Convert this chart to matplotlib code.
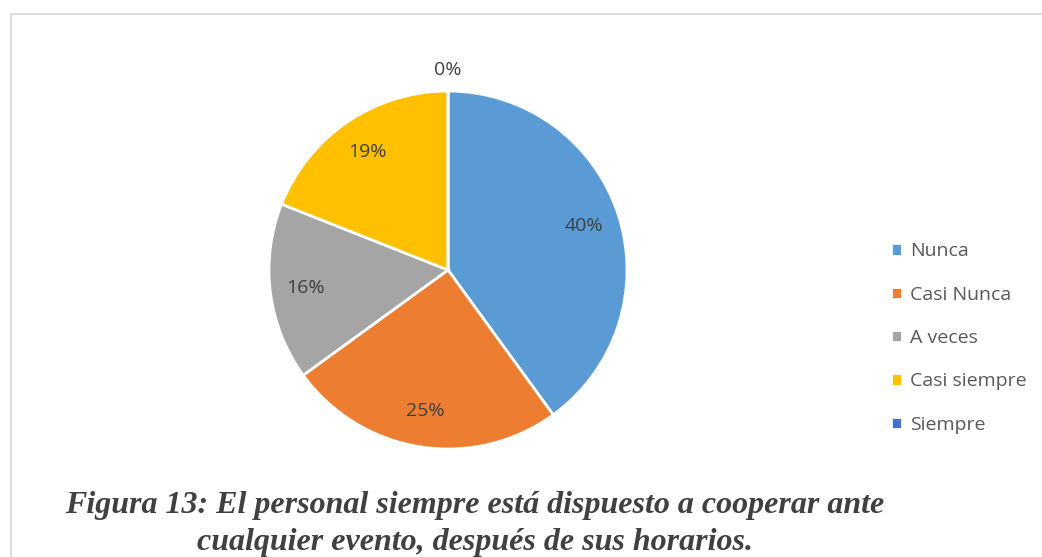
import numpy as np
import matplotlib
matplotlib.use("Agg")
import matplotlib.pyplot as plt
from matplotlib.patches import Rectangle

# data
categories = ["Nunca", "Casi Nunca", "A veces", "Casi siempre", "Siempre"]
values = [40, 25, 16, 19, 0]
colors = ["#5B9BD5", "#ED7D31", "#A5A5A5", "#FFC000", "#4472C4"]
caption = ("Figura 13: El personal siempre está dispuesto a cooperar ante\n"
           "cualquier evento, después de sus horarios.")

plt.rcParams["font.family"] = ["Open Sans", "DejaVu Sans"]

fig = plt.figure(figsize=(10.42, 5.57), dpi=100)

# light frame around the chart area
fig.patches.append(Rectangle((11 / 1042, -0.05), 1.1, 1 - 14 / 557 + 0.05,
                             transform=fig.transFigure, fill=False,
                             edgecolor="#D9D9D9", linewidth=1.2))

# pie axes: centre (448, 270), radius 179 px
r = 179
cx, cy = 448, 557 - 270
ax = fig.add_axes([(cx - r) / 1042, (cy - r) / 557, 2 * r / 1042, 2 * r / 557])
wedges, _ = ax.pie(values, colors=colors, startangle=90, counterclock=False,
                   radius=1, wedgeprops=dict(edgecolor="white", linewidth=2))
ax.set_xlim(-1, 1)
ax.set_ylim(-1, 1)
ax.set_aspect("equal")

total = sum(values)
for w, v in zip(wedges, values):
    ang = np.deg2rad((w.theta1 + w.theta2) / 2)
    d = 0.8 if v > 0 else 1.12
    ax.text(d * np.cos(ang), d * np.sin(ang), f"{v / total:.0%}",
            ha="center", va="center", fontsize=14, color="#404040",
            clip_on=False)

leg = fig.legend(wedges, categories, loc="center left",
                 bbox_to_anchor=(873 / 1042, 1 - 338 / 557),
                 frameon=False, fontsize=14, handlelength=0.6,
                 handleheight=0.6, handletextpad=0.4, labelspacing=1.3)
for t in leg.get_texts():
    t.set_color("#595959")

fig.text(475 / 1042, 1 - 524 / 557, caption, ha="center", va="center",
         fontsize=23, fontweight="bold", fontstyle="italic",
         family="Liberation Serif", color="#404040", linespacing=1.35)

fig.savefig("out.png", dpi=100, facecolor="white")
